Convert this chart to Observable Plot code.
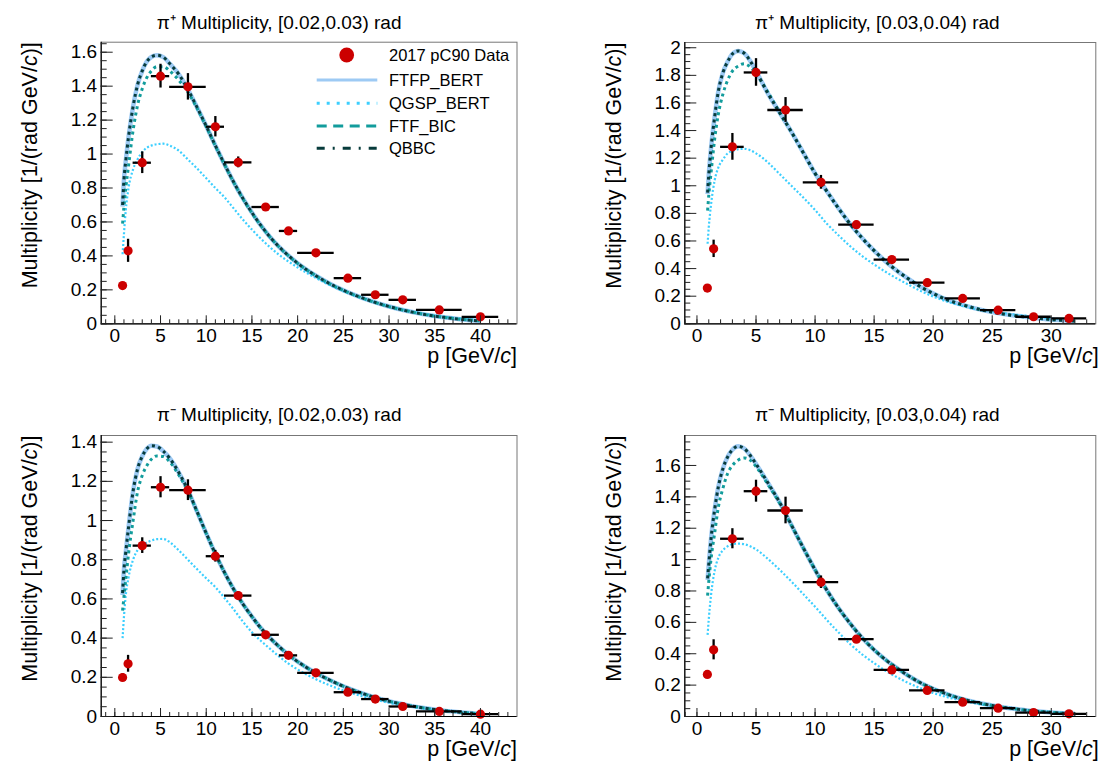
<!DOCTYPE html>
<html><head><meta charset="utf-8">
<script src="https://cdn.jsdelivr.net/npm/d3@7"></script>
<script src="https://cdn.jsdelivr.net/npm/@observablehq/plot@0.6"></script>
<style>
body{margin:0;background:#fff;}
#root{position:relative;width:1106px;height:770px;overflow:hidden;background:#fff;}
.panel{position:absolute;}
.legend{position:absolute;left:0;top:0;pointer-events:none;}
</style></head><body><div id="root"></div>
<script>
// ---------------- DATA ----------------
// momentum bins (GeV/c) for [0.02,0.03) rad panels
const binsA_X  = [0.85, 1.45, 3, 5, 8, 11, 13.5, 16.5, 19, 22, 25.5, 28.5, 31.5, 35.5, 40];
const binsA_Lo = [0.7, 1.2, 2, 4, 6, 10, 12, 15, 18, 20, 24, 27, 30, 33, 38];
const binsA_Hi = [1.0, 1.7, 4, 6, 10, 12, 15, 18, 20, 24, 27, 30, 33, 38, 42];
// momentum bins for [0.03,0.04) rad panels
const binsB_X  = [0.88, 1.41, 3, 5, 7.5, 10.5, 13.5, 16.5, 19.5, 22.5, 25.5, 28.5, 31.5];
const binsB_Lo = [0.7, 1.15, 2, 4, 6, 9, 12, 15, 18, 21, 24, 27, 30];
const binsB_Hi = [1.05, 1.7, 4, 6, 9, 12, 15, 18, 21, 24, 27, 30, 33];

// 2017 pC90 data
const p1Y   = [0.225, 0.43, 0.949, 1.459, 1.396, 1.161, 0.951, 0.688, 0.547, 0.418, 0.269, 0.171, 0.141, 0.082, 0.041];
const p1Err = [0.01, 0.068, 0.064, 0.07, 0.078, 0.06, 0.032, 0.02, 0.015, 0.012, 0.01, 0.008, 0.007, 0.005, 0.004];
const p2Y   = [0.259, 0.543, 1.282, 1.821, 1.549, 1.025, 0.718, 0.465, 0.298, 0.184, 0.099, 0.051, 0.039];
const p2Err = [0.012, 0.063, 0.097, 0.1, 0.09, 0.05, 0.025, 0.018, 0.013, 0.01, 0.008, 0.006, 0.005];
const p3Y   = [0.199, 0.269, 0.872, 1.170, 1.155, 0.818, 0.617, 0.417, 0.312, 0.223, 0.124, 0.089, 0.051, 0.026, 0.012];
const p3Err = [0.02, 0.043, 0.04, 0.054, 0.053, 0.03, 0.02, 0.015, 0.012, 0.01, 0.008, 0.006, 0.005, 0.004, 0.003];
const p4Y   = [0.268, 0.425, 1.133, 1.436, 1.313, 0.856, 0.493, 0.297, 0.166, 0.091, 0.053, 0.025, 0.017];
const p4Err = [0.02, 0.064, 0.064, 0.07, 0.085, 0.04, 0.02, 0.015, 0.01, 0.008, 0.006, 0.004, 0.003];

// model curves, sampled momenta
const gridA = [0.85, 1.0, 1.2, 1.5, 2, 2.5, 3, 3.5, 4, 4.6, 5.3, 6, 7, 8, 9, 10, 11, 12, 13, 14, 15, 16, 17, 18, 19, 20, 22, 24, 26, 28, 30, 32, 34, 36, 38, 40];
const gridB = [0.9, 1.0, 1.2, 1.5, 1.8, 2.2, 2.6, 3, 3.5, 4, 4.5, 5, 6, 7, 8, 9, 10, 11, 12, 13, 14, 15, 16, 17, 18, 19, 20, 21, 22, 23, 24, 25, 26, 27, 28, 29, 30, 31, 32];

const p1FTFP  = [0.69, 0.85, 0.96, 1.10, 1.28, 1.41, 1.49, 1.545, 1.572, 1.582, 1.571, 1.533, 1.47, 1.38, 1.275, 1.165, 1.05, 0.94, 0.835, 0.74, 0.655, 0.578, 0.51, 0.452, 0.402, 0.357, 0.283, 0.223, 0.175, 0.135, 0.102, 0.075, 0.054, 0.038, 0.026, 0.017];
const p1QGSP  = [0.41, 0.53, 0.67, 0.80, 0.91, 0.97, 1.012, 1.037, 1.05, 1.058, 1.061, 1.05, 1.02, 0.968, 0.915, 0.858, 0.80, 0.745, 0.68, 0.615, 0.555, 0.50, 0.45, 0.405, 0.367, 0.332, 0.27, 0.216, 0.171, 0.134, 0.103, 0.078, 0.058, 0.042, 0.03, 0.021];
const p1FTFBIC= [0.59, 0.69, 0.80, 0.93, 1.14, 1.29, 1.385, 1.45, 1.49, 1.515, 1.515, 1.49, 1.435, 1.365, 1.27, 1.162, 1.048, 0.938, 0.834, 0.738, 0.653, 0.577, 0.51, 0.451, 0.401, 0.356, 0.283, 0.222, 0.174, 0.134, 0.101, 0.075, 0.054, 0.038, 0.026, 0.017];
const p1QBBC  = [0.70, 0.85, 0.96, 1.10, 1.28, 1.41, 1.49, 1.545, 1.572, 1.582, 1.571, 1.533, 1.47, 1.38, 1.275, 1.165, 1.05, 0.94, 0.835, 0.74, 0.655, 0.578, 0.51, 0.452, 0.402, 0.357, 0.283, 0.223, 0.175, 0.135, 0.102, 0.075, 0.054, 0.038, 0.026, 0.017];

const p3FTFP  = [0.62, 0.75, 0.84, 0.965, 1.15, 1.265, 1.328, 1.366, 1.382, 1.378, 1.354, 1.318, 1.245, 1.155, 1.045, 0.935, 0.83, 0.735, 0.65, 0.575, 0.51, 0.45, 0.40, 0.355, 0.315, 0.28, 0.222, 0.175, 0.136, 0.104, 0.078, 0.058, 0.042, 0.03, 0.021, 0.014];
const p3QGSP  = [0.40, 0.51, 0.62, 0.71, 0.80, 0.85, 0.874, 0.888, 0.898, 0.905, 0.906, 0.89, 0.848, 0.80, 0.752, 0.705, 0.66, 0.605, 0.547, 0.485, 0.43, 0.385, 0.345, 0.305, 0.27, 0.24, 0.19, 0.15, 0.118, 0.092, 0.07, 0.053, 0.04, 0.03, 0.022, 0.016];
const p3FTFBIC= [0.54, 0.61, 0.70, 0.83, 1.00, 1.15, 1.23, 1.28, 1.313, 1.33, 1.327, 1.30, 1.232, 1.15, 1.045, 0.935, 0.83, 0.735, 0.65, 0.575, 0.51, 0.45, 0.40, 0.355, 0.315, 0.28, 0.222, 0.175, 0.136, 0.104, 0.078, 0.058, 0.042, 0.03, 0.021, 0.014];
const p3QBBC  = [0.63, 0.75, 0.84, 0.965, 1.15, 1.265, 1.328, 1.366, 1.382, 1.378, 1.354, 1.318, 1.245, 1.155, 1.045, 0.935, 0.83, 0.735, 0.65, 0.575, 0.51, 0.45, 0.40, 0.355, 0.315, 0.28, 0.222, 0.175, 0.136, 0.104, 0.078, 0.058, 0.042, 0.03, 0.021, 0.014];

const p2FTFP  = [0.94, 1.08, 1.28, 1.50, 1.68, 1.82, 1.90, 1.955, 1.977, 1.96, 1.905, 1.83, 1.67, 1.53, 1.39, 1.24, 1.09, 0.96, 0.835, 0.72, 0.62, 0.53, 0.45, 0.38, 0.32, 0.265, 0.22, 0.18, 0.15, 0.125, 0.103, 0.085, 0.07, 0.058, 0.048, 0.039, 0.031, 0.025, 0.02];
const p2QGSP  = [0.58, 0.70, 0.87, 1.04, 1.13, 1.19, 1.235, 1.252, 1.265, 1.268, 1.258, 1.235, 1.17, 1.085, 1.0, 0.915, 0.825, 0.725, 0.64, 0.56, 0.49, 0.43, 0.375, 0.325, 0.28, 0.235, 0.198, 0.166, 0.14, 0.118, 0.10, 0.088, 0.076, 0.066, 0.056, 0.047, 0.038, 0.032, 0.027];
const p2FTFBIC= [0.82, 0.93, 1.10, 1.34, 1.515, 1.665, 1.765, 1.83, 1.868, 1.884, 1.862, 1.812, 1.68, 1.53, 1.39, 1.24, 1.09, 0.96, 0.835, 0.72, 0.62, 0.53, 0.45, 0.38, 0.32, 0.265, 0.22, 0.18, 0.15, 0.125, 0.103, 0.085, 0.07, 0.058, 0.048, 0.039, 0.031, 0.025, 0.02];
const p2QBBC  = [0.95, 1.08, 1.28, 1.50, 1.68, 1.82, 1.90, 1.955, 1.977, 1.96, 1.905, 1.83, 1.67, 1.53, 1.39, 1.24, 1.09, 0.96, 0.835, 0.72, 0.62, 0.53, 0.45, 0.38, 0.32, 0.265, 0.22, 0.18, 0.15, 0.125, 0.103, 0.085, 0.07, 0.058, 0.048, 0.039, 0.031, 0.025, 0.02];

const p4FTFP  = [0.87, 0.97, 1.14, 1.32, 1.46, 1.58, 1.655, 1.70, 1.722, 1.708, 1.665, 1.61, 1.49, 1.365, 1.22, 1.075, 0.935, 0.805, 0.69, 0.59, 0.50, 0.425, 0.36, 0.305, 0.255, 0.212, 0.177, 0.147, 0.122, 0.101, 0.084, 0.07, 0.058, 0.048, 0.039, 0.032, 0.026, 0.021, 0.017];
const p4QGSP  = [0.52, 0.62, 0.78, 0.93, 1.01, 1.06, 1.085, 1.098, 1.102, 1.098, 1.085, 1.065, 1.005, 0.935, 0.86, 0.78, 0.70, 0.615, 0.535, 0.46, 0.395, 0.34, 0.29, 0.248, 0.21, 0.178, 0.15, 0.127, 0.108, 0.092, 0.078, 0.066, 0.056, 0.047, 0.04, 0.034, 0.029, 0.024, 0.02];
const p4FTFBIC= [0.77, 0.86, 1.01, 1.17, 1.33, 1.455, 1.55, 1.60, 1.635, 1.648, 1.634, 1.593, 1.48, 1.36, 1.218, 1.075, 0.935, 0.805, 0.69, 0.59, 0.50, 0.425, 0.36, 0.305, 0.255, 0.212, 0.177, 0.147, 0.122, 0.101, 0.084, 0.07, 0.058, 0.048, 0.039, 0.032, 0.026, 0.021, 0.017];
const p4QBBC  = [0.88, 0.97, 1.14, 1.32, 1.46, 1.58, 1.655, 1.70, 1.722, 1.708, 1.665, 1.61, 1.49, 1.365, 1.22, 1.075, 0.935, 0.805, 0.69, 0.59, 0.50, 0.425, 0.36, 0.305, 0.255, 0.212, 0.177, 0.147, 0.122, 0.101, 0.084, 0.07, 0.058, 0.048, 0.039, 0.032, 0.026, 0.021, 0.017];

const titles = ["π⁺ Multiplicity, [0.02,0.03) rad", "π⁺ Multiplicity, [0.03,0.04) rad",
                "π⁻ Multiplicity, [0.02,0.03) rad", "π⁻ Multiplicity, [0.03,0.04) rad"];
const modelNames = ["FTFP_BERT", "QGSP_BERT", "FTF_BIC", "QBBC"];
const dataName = "2017 pC90 Data";
const yLabel = "Multiplicity [1/(rad GeV/c)]";
const xLabel = "p [GeV/c]";

// ---------------- STYLE ----------------
const FONT = "'Liberation Sans', Arial, Helvetica, sans-serif";
const modelColors = ["#9dcaf4", "#3ccfff", "#129c9c", "#073b3b"];
const curveWidth  = [4.5, 2.2, 3, 3];
const curveDash   = [null, "2,2", "3,3.4", "3,3.4"];
const legendDash  = [null, "3,7", "10,6.5", "8,8,2,8"];
const dotColor = "#cc0000";

const panels = [
  {left:0,   top:0,   X:binsA_X, Lo:binsA_Lo, Hi:binsA_Hi, Y:p1Y, E:p1Err, grid:gridA, models:[p1FTFP,p1QGSP,p1FTFBIC,p1QBBC],
   xDomain:[-1.49,44.0], yDomain:[0,1.659], m:{l:100.7,r:36.5,t:41.7,b:61.7}, titleDx:-30, titleY:15, xLabDx:0},
  {left:553, top:0,   X:binsB_X, Lo:binsB_Lo, Hi:binsB_Hi, Y:p2Y, E:p2Err, grid:gridB, models:[p2FTFP,p2QGSP,p2FTFBIC,p2QBBC],
   xDomain:[-1.03,33.77], yDomain:[0,2.038], m:{l:131.3,r:10.7,t:42,b:61.7}, titleDx:-13, titleY:15, xLabDx:3},
  {left:0,   top:385, X:binsA_X, Lo:binsA_Lo, Hi:binsA_Hi, Y:p3Y, E:p3Err, grid:gridA, models:[p3FTFP,p3QGSP,p3FTFBIC,p3QBBC],
   xDomain:[-1.49,44.0], yDomain:[0,1.434], m:{l:100.7,r:36.5,t:50,b:54}, titleDx:-30, titleY:22, xLabDx:0},
  {left:553, top:385, X:binsB_X, Lo:binsB_Lo, Hi:binsB_Hi, Y:p4Y, E:p4Err, grid:gridB, models:[p4FTFP,p4QGSP,p4FTFBIC,p4QBBC],
   xDomain:[-1.03,33.77], yDomain:[0,1.791], m:{l:131.3,r:10.7,t:50,b:54}, titleDx:-13, titleY:22, xLabDx:3}
];

function italicC(svg) {
  svg.querySelectorAll("text").forEach(t => {
    if (t.children.length) return;
    const s = t.textContent;
    const i = s.indexOf("GeV/c");
    if (i < 0) return;
    const a = s.slice(0, i + 4), b = s.slice(i + 5);
    t.textContent = "";
    const ns = "http://www.w3.org/2000/svg";
    const t1 = document.createElementNS(ns, "tspan"); t1.textContent = a;
    const t2 = document.createElementNS(ns, "tspan"); t2.textContent = "c"; t2.setAttribute("font-style", "italic");
    const t3 = document.createElementNS(ns, "tspan"); t3.textContent = b;
    t.append(t1, t2, t3);
  });
}

const fmt = d => String(+d.toFixed(2));
const root = document.getElementById("root");

panels.forEach((P, k) => {
  const pts = P.X.map((x, i) => ({x, y: P.Y[i], lo: P.Lo[i], hi: P.Hi[i], e: P.E[i]}));
  const yMajor = d3.range(0, P.yDomain[1] + 1e-9, 0.2);
  const yMinor = d3.range(0, P.yDomain[1], 0.05);
  const xMajor = d3.range(0, P.xDomain[1], 5);
  const xMinor = d3.range(Math.ceil(P.xDomain[0]), P.xDomain[1], 1);
  const curveMarks = P.models.map((vals, j) =>
    Plot.line(P.grid.map((x, i) => ({x, y: vals[i]})), {
      x: "x", y: "y", curve: "monotone-x",
      stroke: modelColors[j], strokeWidth: curveWidth[j],
      strokeDasharray: curveDash[j], strokeLinecap: "butt"
    })
  );
  const plot = Plot.plot({
    width: 553, height: 385,
    marginLeft: P.m.l, marginRight: P.m.r, marginTop: P.m.t, marginBottom: P.m.b,
    x: {domain: P.xDomain}, y: {domain: P.yDomain},
    style: {fontFamily: FONT, fontSize: "19px", background: "transparent", overflow: "visible"},
    marks: [
      Plot.frame({stroke: "#777", strokeWidth: 1}),
      ...curveMarks,
      Plot.ruleX(pts, {x: "x", y1: d => d.y - d.e, y2: d => d.y + d.e, stroke: "#000", strokeWidth: 2.3}),
      Plot.ruleY(pts, {y: "y", x1: "lo", x2: "hi", stroke: "#000", strokeWidth: 2.3}),
      Plot.dot(pts, {x: "x", y: "y", r: 4.6, fill: dotColor, stroke: null}),
      Plot.ruleX([P.xDomain[0]], {stroke: "#000", strokeWidth: 1.2}),
      Plot.ruleY([0], {stroke: "#000", strokeWidth: 1.2}),
      Plot.axisY(yMajor, {tickSize: -12, fill: "none", label: null, stroke: "#222"}),
      Plot.axisY(yMinor, {tickSize: -6, fill: "none", label: null, stroke: "#222"}),
      Plot.axisY(yMajor, {tickSize: 0, tickPadding: 4, tickFormat: fmt, label: null, fill: "#000"}),
      Plot.axisX(xMajor, {tickSize: -8, fill: "none", label: null, stroke: "#222"}),
      Plot.axisX(xMinor, {tickSize: -4, fill: "none", label: null, stroke: "#222"}),
      Plot.axisX(xMajor, {tickSize: 0, tickPadding: 5, tickFormat: fmt, label: null, fill: "#000"}),
      Plot.text([titles[k]], {frameAnchor: "top", dx: P.titleDx, dy: P.titleY - P.m.t, fontSize: 19, fill: "#000"}),
      Plot.text([yLabel], {frameAnchor: "top-left", rotate: -90, textAnchor: "end", dx: -79, fontSize: 21.5, fill: "#000"}),
      Plot.text([xLabel], {frameAnchor: "bottom-right", textAnchor: "end", dx: P.xLabDx, dy: 39.5, fontSize: 21.5, fill: "#000"})
    ]
  });
  italicC(plot);
  const div = document.createElement("div");
  div.className = "panel";
  div.style.left = P.left + "px"; div.style.top = P.top + "px";
  div.appendChild(plot);
  root.appendChild(div);
});

// ---------------- LEGEND (top-left panel) ----------------
{
  const svg = d3.select(root).append("svg").attr("class", "legend")
    .attr("width", 553).attr("height", 385)
    .style("font-family", FONT).style("font-size", "16.5px");
  const rowY = [55, 80, 103.3, 126, 148.3];
  const textX = 389;
  svg.append("circle").attr("cx", 346.7).attr("cy", rowY[0]).attr("r", 7.4).attr("fill", dotColor);
  svg.append("text").attr("x", textX).attr("y", rowY[0]).attr("dy", "0.35em").text(dataName);
  modelNames.forEach((name, j) => {
    svg.append("line").attr("x1", 316.7).attr("x2", 377.3).attr("y1", rowY[j + 1]).attr("y2", rowY[j + 1])
      .attr("stroke", modelColors[j]).attr("stroke-width", 3)
      .attr("stroke-dasharray", legendDash[j]);
    svg.append("text").attr("x", textX).attr("y", rowY[j + 1]).attr("dy", "0.35em").text(name);
  });
}
</script></body></html>
